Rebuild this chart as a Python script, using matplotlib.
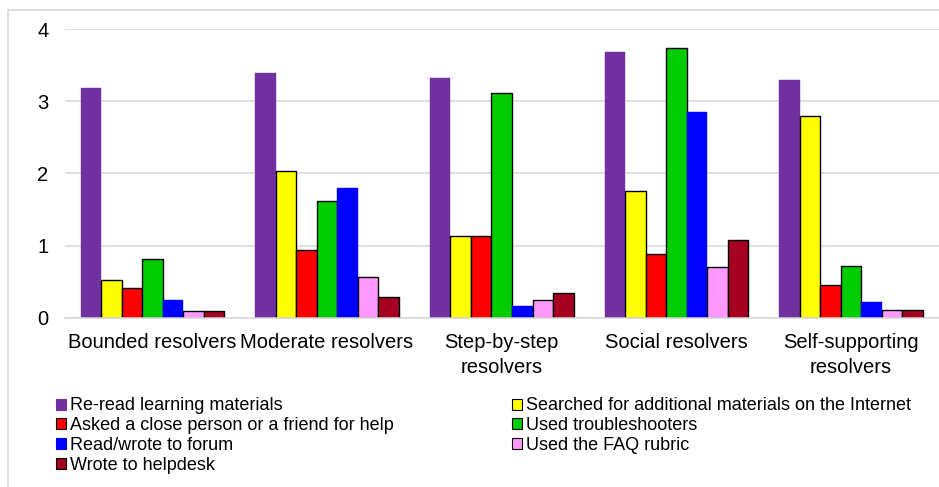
import matplotlib
matplotlib.use("Agg")
import matplotlib.pyplot as plt
from matplotlib.patches import Rectangle, Patch
import numpy as np

plt.rcParams['font.family'] = ['Liberation Sans', 'DejaVu Sans']

categories = ["Bounded resolvers", "Moderate resolvers", "Step-by-step\nresolvers",
              "Social resolvers", "Self-supporting\nresolvers"]

series_names = [
    "Re-read learning materials",
    "Searched for additional materials on the Internet",
    "Asked a close person or a friend for help",
    "Used troubleshooters",
    "Read/wrote to forum",
    "Used the FAQ rubric",
    "Wrote to helpdesk",
]

reread       = [3.18, 3.40, 3.33, 3.69, 3.30]
searched     = [0.52, 2.03, 1.14, 1.76, 2.80]
asked        = [0.41, 0.94, 1.13, 0.88, 0.46]
troubleshoot = [0.82, 1.62, 3.11, 3.74, 0.72]
forum        = [0.25, 1.80, 0.16, 2.85, 0.22]
faq          = [0.09, 0.56, 0.24, 0.71, 0.10]
helpdesk     = [0.09, 0.29, 0.34, 1.08, 0.10]

series_values = [reread, searched, asked, troubleshoot, forum, faq, helpdesk]
colors = ["#7030A0", "#FFFF00", "#FF0000", "#00CC00", "#0000FF", "#FF99FF", "#A50021"]
outlined = [False, True, True, True, False, True, True]

yticks = [0, 1, 2, 3, 4]

W, H = 939, 487
fig = plt.figure(figsize=(W / 100, H / 100), dpi=100)

# light outer frame of the chart area
fig.patches.append(Rectangle((8 / W, -0.05), 1.2, (H - 10) / H + 0.05,
                             transform=fig.transFigure, fill=False,
                             edgecolor="#d9d9d9", linewidth=1.2, zorder=0))

ax = fig.add_axes([65 / W, 169.3 / H, (938.5 - 65) / W, (317.7 - 29.3) / H])

n = len(series_values)
bw = 0.1174
x = np.arange(len(categories))
for i, (vals, c, ol) in enumerate(zip(series_values, colors, outlined)):
    offs = (i - (n - 1) / 2) * bw
    ax.bar(x + offs, vals, width=bw, color=c,
           edgecolor="black" if ol else c,
           linewidth=1.0 if ol else 0.3, zorder=3)

ax.set_xlim(-0.5, len(categories) - 0.5)
ax.set_ylim(0, 4)
ax.set_yticks(yticks)
ax.set_yticklabels([str(t) for t in yticks], fontsize=14.5)
ax.set_xticks(x)
ax.set_xticklabels(categories, fontsize=14.5, linespacing=1.42)
ax.tick_params(axis='y', length=0, pad=12)
ax.tick_params(axis='x', length=0, pad=10.8)
ax.grid(axis='y', color="#d9d9d9", linewidth=1.1, zorder=0)
for s in ("top", "right", "left"):
    ax.spines[s].set_visible(False)
ax.spines["bottom"].set_color("#d9d9d9")
ax.spines["bottom"].set_linewidth(1.1)
ax.spines["bottom"].set_zorder(4)

def handle(i):
    return Patch(facecolor=colors[i], edgecolor="black" if outlined[i] else colors[i],
                 linewidth=0.8)

left_idx = [0, 2, 4, 6]
right_idx = [1, 3, 5]
common = dict(frameon=False, fontsize=13.0, handlelength=0.58, handleheight=0.58,
              handletextpad=0.18, labelspacing=0.15, borderpad=0, borderaxespad=0)

leg1 = fig.legend([handle(i) for i in left_idx], [series_names[i] for i in left_idx],
                  loc="upper left", bbox_to_anchor=(56 / W, (H - 397.5) / H), **common)
leg2 = fig.legend([handle(i) for i in right_idx], [series_names[i] for i in right_idx],
                  loc="upper left", bbox_to_anchor=(512 / W, (H - 397.5) / H), **common)

fig.savefig("out.png", dpi=100)
